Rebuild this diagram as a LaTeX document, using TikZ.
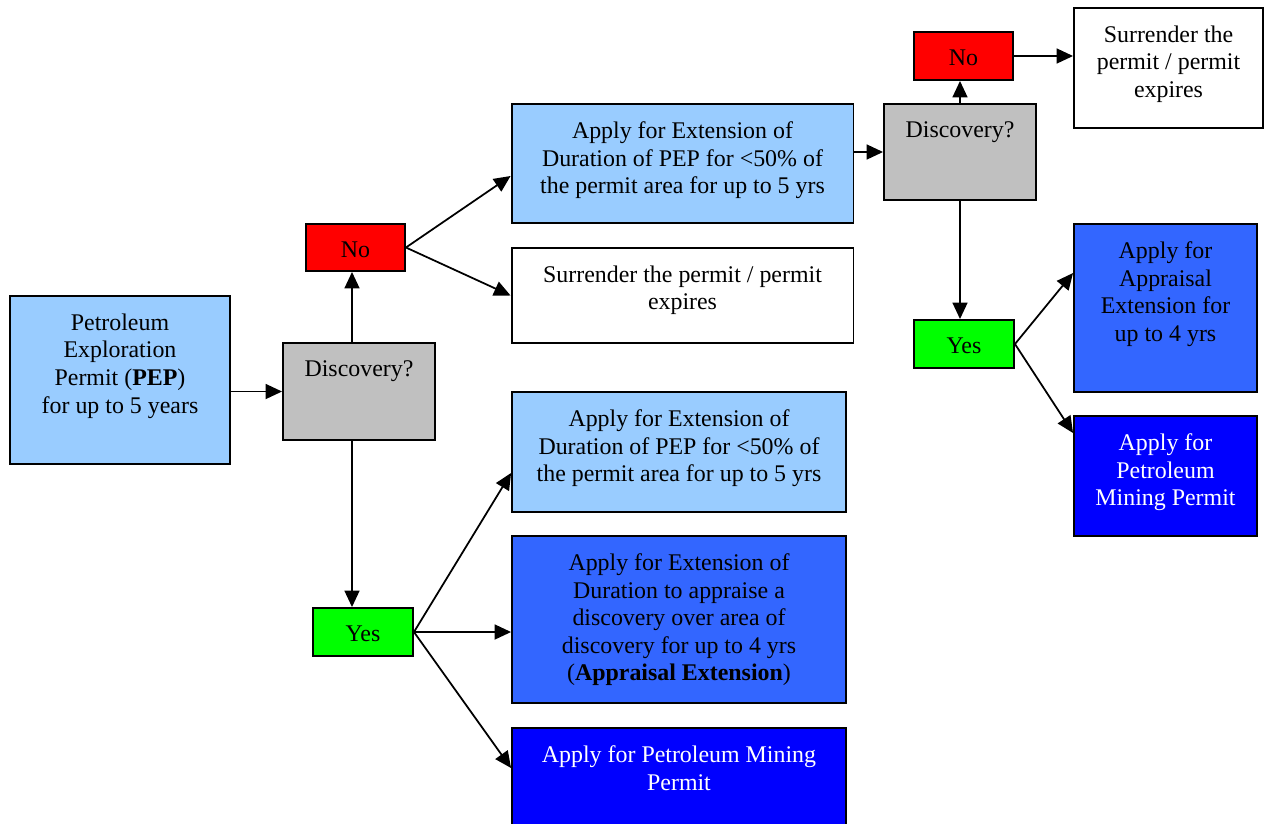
\documentclass[tikz,border=0pt]{standalone}
\usepackage{fontspec}
\setmainfont{Liberation Serif}
\usetikzlibrary{arrows.meta}
\definecolor{paleblue}{HTML}{99CCFF}
\definecolor{midblue}{HTML}{3366FF}
\definecolor{deepblue}{HTML}{0000FF}
\definecolor{askgray}{HTML}{C0C0C0}
\definecolor{nored}{HTML}{FF0000}
\definecolor{yesgreen}{HTML}{00FF00}
\begin{document}
\begin{tikzpicture}[x=0.02cm, y=-0.02cm,
    box/.style={draw, line width=1.1pt, inner sep=0pt},
    boxtext/.style={anchor=north, align=center, yshift=-0.26cm, inner sep=3pt, font=\fontsize{13.6}{15.7}\selectfont},
    arr/.style={line width=1pt, -{Triangle[length=0.33cm, width=0.3cm]}}]
\useasboundingbox (0,0) rectangle (1264,823);
\node[box, fill=paleblue, minimum width=4.4cm, minimum height=3.36cm, label={[boxtext]north:{Petroleum\\Exploration\\Permit (\textbf{PEP})\\for up to 5 years}}] (pep) at (120,380) {};
\node[box, fill=askgray, minimum width=3.04cm, minimum height=1.94cm, label={[boxtext]north:{Discovery?}}] (disc1) at (359,391.5) {};
\node[box, fill=nored, minimum width=1.98cm, minimum height=0.94cm, label={[boxtext]north:{No}}] (no1) at (355.5,247.5) {};
\node[box, fill=yesgreen, minimum width=2cm, minimum height=0.96cm, label={[boxtext]north:{Yes}}] (yes1) at (363,632) {};
\node[box, fill=paleblue, minimum width=6.84cm, minimum height=2.38cm, label={[boxtext]north:{Apply for Extension of\\Duration of PEP for <50\% of\\the permit area for up to 5 yrs}}] (ext1) at (682.5,163.5) {};
\node[box, fill=white, minimum width=6.84cm, minimum height=1.9cm, label={[boxtext]north:{Surrender the permit / permit\\expires}}] (sur1) at (682.5,295.5) {};
\node[box, fill=paleblue, minimum width=6.68cm, minimum height=2.4cm, label={[boxtext]north:{Apply for Extension of\\Duration of PEP for <50\% of\\the permit area for up to 5 yrs}}] (ext2) at (679,452) {};
\node[box, fill=midblue, minimum width=6.68cm, minimum height=3.34cm, label={[boxtext]north:{Apply for Extension of\\Duration to appraise a\\discovery over area of\\discovery for up to 4 yrs\\(\textbf{Appraisal Extension})}}] (app1) at (679,619.5) {};
\node[box, fill=deepblue, minimum width=6.68cm, minimum height=2.44cm, label={[boxtext, text=white]north:{Apply for Petroleum Mining\\Permit}}] (pmp1) at (679,789) {};
\node[box, fill=askgray, minimum width=3.04cm, minimum height=1.92cm, label={[boxtext]north:{Discovery?}}] (disc2) at (960,152) {};
\node[box, fill=nored, minimum width=1.98cm, minimum height=0.96cm, label={[boxtext]north:{No}}] (no2) at (963.5,56) {};
\node[box, fill=white, minimum width=3.78cm, minimum height=2.4cm, label={[boxtext]north:{Surrender the\\permit / permit\\expires}}] (sur2) at (1168.5,68) {};
\node[box, fill=yesgreen, minimum width=2cm, minimum height=0.96cm, label={[boxtext]north:{Yes}}] (yes2) at (964,344) {};
\node[box, fill=midblue, minimum width=3.66cm, minimum height=3.36cm, label={[boxtext]north:{Apply for\\Appraisal\\Extension for\\up to 4 yrs}}] (app2) at (1165.5,308) {};
\node[box, fill=deepblue, minimum width=3.66cm, minimum height=2.4cm, label={[boxtext, text=white]north:{Apply for\\Petroleum\\Mining Permit}}] (pmp2) at (1165.5,476) {};
\coordinate (trunk) at (352,0);
\draw[arr] (pep.east |- disc1.west) -- (disc1.west);
\draw[arr] (trunk |- disc1.north) -- (trunk |- no1.south);
\draw[arr] (trunk |- disc1.south) -- (trunk |- yes1.north);
\draw[arr] (no1.east) -- ([yshift=-0.25cm]ext1.west);
\draw[arr] (no1.east) -- (sur1.west);
\draw[arr] (yes1.east) -- ([yshift=-0.42cm]ext2.west);
\draw[arr] (yes1.east) -- (app1.west |- yes1.east);
\draw[arr] (yes1.east) -- ([yshift=0.42cm]pmp1.west);
\draw[arr] (ext1.east |- disc2.west) -- (disc2.west);
\draw[arr] (disc2.north) -- (disc2.north |- no2.south);
\draw[arr] (no2.east) -- (no2.east -| sur2.west);
\draw[arr] (disc2.south) -- (disc2.south |- yes2.north);
\draw[arr] (yes2.east) -- ([yshift=0.7cm]app2.west);
\draw[arr] (yes2.east) -- ([yshift=0.86cm]pmp2.west);
\end{tikzpicture}
\end{document}
